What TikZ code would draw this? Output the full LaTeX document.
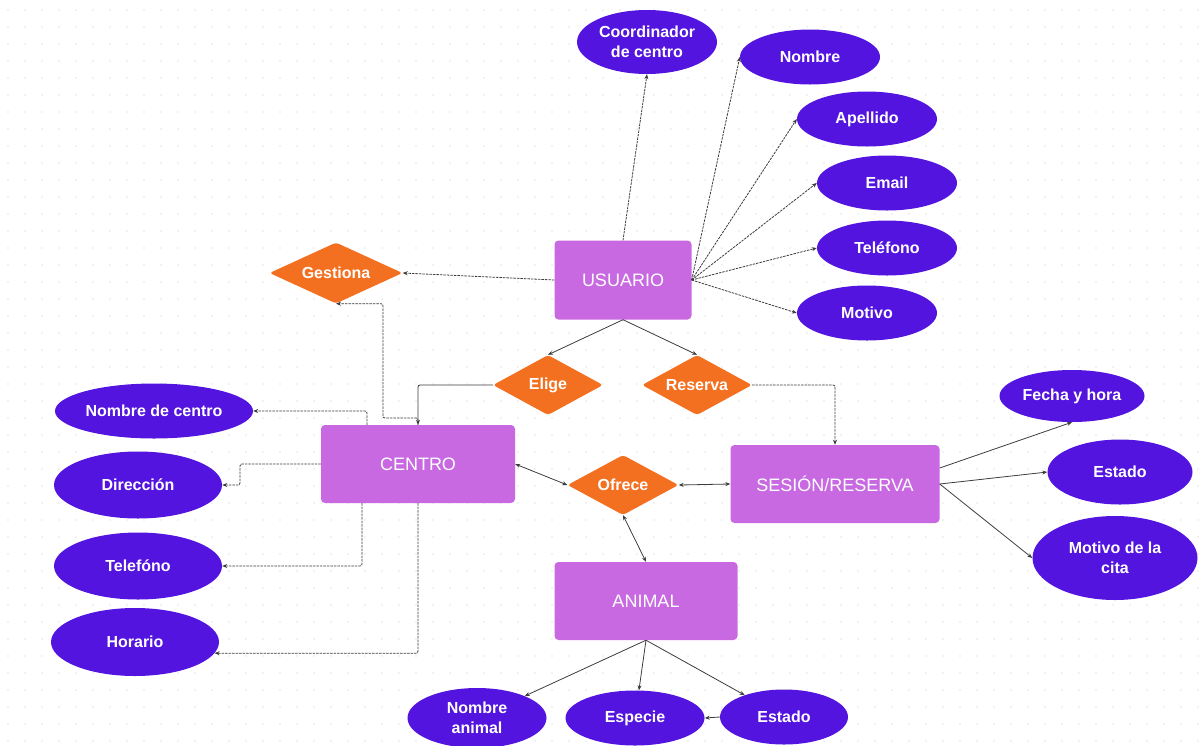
\documentclass[tikz,border=0pt]{standalone}
\usepackage{fontspec}
\setmainfont{Liberation Sans}
\usetikzlibrary{shapes.geometric,arrows.meta}

\definecolor{attrblue}{RGB}{82,20,222}
\definecolor{entpink}{RGB}{200,105,226}
\definecolor{relorange}{RGB}{243,112,33}
\definecolor{linegray}{RGB}{60,60,60}
\definecolor{dotgray}{RGB}{228,228,228}

\begin{document}
\begin{tikzpicture}[x=1pt,y=-1pt,
    attr/.style={ellipse,fill=attrblue,text=white,inner sep=0pt,align=center,
      font=\fontsize{16}{20}\selectfont\bfseries},
    entity/.style={rectangle,rounded corners=4pt,fill=entpink,text=white,inner sep=0pt,
      font=\fontsize{18}{20}\selectfont},
    rel/.style={diamond,aspect=2,rounded corners=3pt,fill=relorange,text=white,inner sep=0pt,
      font=\fontsize{16}{20}\selectfont\bfseries},
    link/.style={draw=linegray,line width=0.8pt,-{Stealth[length=5pt,width=4pt]}},
    dlink/.style={link,dash pattern=on 2.5pt off 1pt},
    blink/.style={link,{Stealth[length=5pt,width=4pt]}-{Stealth[length=5pt,width=4pt]}}]
    \useasboundingbox (0,0) rectangle (1199,745);

    % Dotted canvas
    \foreach \i in {0,...,70}
      \foreach \j in {0,...,43}
        \fill[dotgray] (8+\i*17,10+\j*17) circle (0.9pt);

    % Entities
    \node[entity,minimum width=137pt,minimum height=79pt] (usr) at (623,280) {USUARIO};
    \node[entity,minimum width=194pt,minimum height=78pt] (cen) at (418,464) {CENTRO};
    \node[entity,minimum width=209pt,minimum height=78pt] (ses) at (835,484) {SESIÓN/RESERVA};
    \node[entity,minimum width=183pt,minimum height=78pt] (ani) at (646,601) {ANIMAL};

    % Relations
    \node[rel,minimum width=133pt,minimum height=61pt] (ges) at (336,273) {Gestiona};
    \node[rel,minimum width=110pt,minimum height=60pt] (eli) at (548,385) {Elige};
    \node[rel,minimum width=110pt,minimum height=60pt] (res) at (697,385) {Reserva};
    \node[rel,minimum width=111pt,minimum height=60pt] (ofr) at (623,485) {Ofrece};

    % Attributes of USUARIO
    \node[attr,minimum width=140pt,minimum height=64pt] (coo) at (647,42) {Coordinador\\de centro};
    \node[attr,minimum width=140pt,minimum height=55pt] (nom) at (810,57) {Nombre};
    \node[attr,minimum width=140pt,minimum height=55pt] (ape) at (867,119) {Apellido};
    \node[attr,minimum width=140pt,minimum height=55pt] (ema) at (887,183) {Email};
    \node[attr,minimum width=140pt,minimum height=55pt] (tfu) at (887,248) {Teléfono};
    \node[attr,minimum width=140pt,minimum height=55pt] (mtv) at (867,313) {Motivo};

    % Attributes of CENTRO
    \node[attr,minimum width=198pt,minimum height=55pt] (ndc) at (154,411) {Nombre de centro};
    \node[attr,minimum width=168pt,minimum height=67pt] (dir) at (138,485) {Dirección};
    \node[attr,minimum width=168pt,minimum height=67pt] (tfc) at (138,566) {Telefóno};
    \node[attr,minimum width=168pt,minimum height=68pt] (hor) at (135,642) {Horario};

    % Attributes of SESION/RESERVA
    \node[attr,minimum width=145pt,minimum height=52pt] (fyh) at (1072,396) {Fecha y hora};
    \node[attr,minimum width=145pt,minimum height=65pt] (ess) at (1120,472) {Estado};
    \node[attr,minimum width=165pt,minimum height=84pt] (mdc) at (1115,558) {Motivo de la\\cita};

    % Attributes of ANIMAL
    \node[attr,minimum width=139pt,minimum height=60pt] (nan) at (477,718) {Nombre\\animal};
    \node[attr,minimum width=139pt,minimum height=55pt] (esp) at (635,718) {Especie};
    \node[attr,minimum width=128pt,minimum height=55pt] (esa) at (784,717) {Estado};

    % USUARIO links
    \draw[dlink] (usr.north) -- (coo.south);
    \foreach \a in {nom,ape,ema,tfu,mtv}
      \draw[dlink] (usr.east) -- (\a.west);
    \draw[dlink] (usr.west) -- (ges.east);
    \draw[link] (usr.south) -- (eli.north);
    \draw[link] (usr.south) -- (res.north);

    % CENTRO links
    \draw[dlink,rounded corners=2pt] (cen.north) |- (383,418) |- (ges.south);
    \draw[link,rounded corners=2pt] (eli.west) -| (cen.north);
    \draw[dlink,rounded corners=2pt] ([xshift=-51pt]cen.north) |- (ndc.east);
    \draw[dlink,rounded corners=2pt] (cen.west) -- (240,464) |- (dir.east);
    \draw[dlink,rounded corners=2pt] ([xshift=-56pt]cen.south) |- (tfc.east);
    \draw[dlink,rounded corners=2pt] (cen.south) |- (hor.-8);
    \draw[blink] (cen.east) -- (ofr.west);

    % SESION/RESERVA links
    \draw[dlink,rounded corners=2pt] (res.east) -| (ses.north);
    \draw[blink] (ofr.east) -- (ses.west);
    \draw[link] ([yshift=16pt]ses.east) -- (fyh.south);
    \draw[link] (ses.east) -- (ess.west);
    \draw[link] (ses.east) -- (mdc.west);

    % ANIMAL links
    \draw[blink] (ofr.south) -- (ani.north);
    \draw[link] (ani.south) -- (nan);
    \draw[link] (ani.south) -- (esp);
    \draw[link] (ani.south) -- (esa);
    \draw[link] (esa.west) -- (esp.east);
\end{tikzpicture}
\end{document}
